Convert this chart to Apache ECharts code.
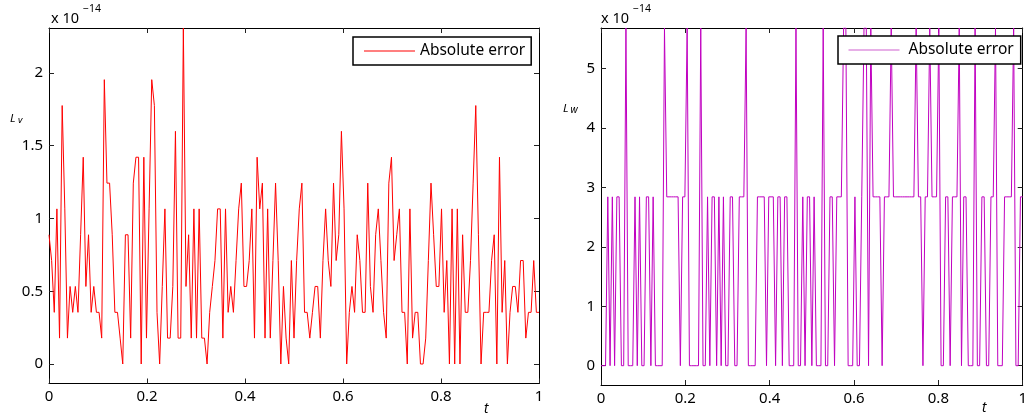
<!DOCTYPE html>
<html><head><meta charset="utf-8">
<script src="https://cdn.jsdelivr.net/npm/echarts@6/dist/echarts.min.js"></script>
<style>html,body{margin:0;padding:0;background:#fff}#c{width:1030px;height:418px}</style>
</head><body><div id="c"></div>
<script>
// sample count: 187 points on t in [0,1]
const N_INTERVALS = 186;
const xTickLabels = [0, 0.2, 0.4, 0.6, 0.8, 1];
const yTicksV = [0, 0.5, 1, 1.5, 2];
const yTicksW = [0, 1, 2, 3, 4, 5];
const legendText = 'Absolute error';

// absolute error L_v (units of 1e-14)
const errV = [
0.888,0.711,0.355,1.066,0.178,1.776,1.066,0.178,0.533,0.355,0.533,0.355,0.888,1.421,0.533,0.888,0.355,0.533,0.355,0.355,0.178,1.954,1.243,1.243,0.888,0.355,0.355,0.178,0,0.888,0.888,0.178,1.243,1.421,1.421,0,1.421,0.178,1.066,1.954,1.776,0.355,0,0.533,1.066,0.178,0.178,
0.533,1.599,0.178,0.178,2.309,0.533,0.888,0.178,1.066,0.178,1.066,0.178,0.178,0,0.355,0.533,0.711,1.066,1.066,0.178,1.066,0.355,0.533,0.355,0.711,1.066,1.243,0.533,0.533,0.711,1.066,0.178,1.421,1.066,1.243,0.178,1.066,0.178,0.711,1.243,0.711,0,0.533,0.178,0,0.711,0.178,
0.711,1.066,1.243,0.355,0.355,0.178,0.355,0.533,0.533,0.178,0.711,1.066,0.711,0.533,1.243,0.711,0.888,1.599,1.066,0,0.355,0.533,0.355,0.888,0.711,0.355,0.355,1.243,0.533,0.355,0.888,1.066,0.711,0.355,0.178,1.243,1.421,0.711,0.888,1.066,0.355,0.355,0,1.066,0.178,0.355,0.355,
0,0,0.178,0.711,1.243,0.888,0.533,0.533,1.066,0.355,0.711,0,1.066,0,1.066,0,0.888,0.355,0.355,0.711,1.243,1.776,0.888,0,0.355,0.355,0.355,0.711,0.888,0,1.421,0.355,0.711,0,0.355,0.533,0.533,0.355,0.711,0.711,0.178,0.355,0.355,0.711,0.355,0.355
];

// absolute error L_w (units of 1e-14)
const errW = [
0,0,0,2.842,0,2.842,0,2.842,2.842,0,0,5.684,0,0,0,2.842,0,2.842,0,0,2.842,2.842,0,2.842,0,0,0,0,5.684,2.842,2.842,2.842,2.842,2.842,2.842,0,2.842,2.842,5.684,0,0,0,0,0,5.684,0,0,
2.842,0,2.842,2.842,0,2.842,0,2.842,0,0,2.842,2.842,0,0,2.842,2.842,2.842,5.684,0,0,0,0,2.842,2.842,2.842,2.842,0,2.842,2.842,2.842,0,2.842,2.842,0,2.842,2.842,0,0,0,5.684,0,0,2.842,0,2.842,2.842,0,
2.842,0,0,0,5.684,0,0,2.842,2.842,0,2.842,2.842,2.842,5.684,5.684,0,0,0,2.842,0,0,2.842,5.684,5.684,0,5.684,2.842,2.842,2.842,2.842,0,2.842,2.842,2.842,5.684,2.842,2.842,2.842,2.842,2.842,2.842,2.842,2.842,2.842,2.842,5.684,
2.842,2.842,0,2.842,2.842,5.684,2.842,2.842,2.842,5.684,0,0,2.842,2.842,0,2.842,2.842,2.842,5.684,0,2.842,2.842,0,0,0,5.684,0,0,2.842,2.842,0,0,2.842,2.842,5.684,0,0,0,2.842,2.842,2.842,2.842,5.684,0,0,2.842,2.842
];

const FONT = '"Noto Sans", "Open Sans", sans-serif';
const chart = echarts.init(document.getElementById('c'), null, {renderer: 'canvas'});

function xAx(grid, top) {
  return {
    type: 'value', gridIndex: grid, min: 0, max: 1, interval: 0.2,
    position: top ? 'top' : 'bottom',
    axisLine: {show: true, onZero: false, lineStyle: {color: '#000', width: 1}},
    axisTick: {show: true, inside: true, length: 5, lineStyle: {color: '#222'}},
    axisLabel: {show: !top, margin: 6, color: '#000', fontSize: 15, fontFamily: FONT,
      formatter: v => String(Math.round(v * 10) / 10)},
    splitLine: {show: false}
  };
}
function yAx(grid, right, min, max, ticks) {
  return {
    type: 'value', gridIndex: grid, min: min, max: max,
    position: right ? 'right' : 'left',
    axisLine: {show: true, onZero: false, lineStyle: {color: '#000', width: 1}},
    axisTick: {show: true, inside: true, length: 5, customValues: ticks, lineStyle: {color: '#222'}},
    axisLabel: {show: !right, margin: 6, customValues: ticks, color: '#000', fontSize: 15, fontFamily: FONT},
    splitLine: {show: false}
  };
}

function txt(x, y, s, size, italic) {
  return {type: 'text', x: x, y: y, silent: true,
    style: {text: s, fill: '#000', font: (italic ? 'italic ' : '') + size + 'px ' + FONT,
      align: 'left', verticalAlign: 'middle'}};
}

const legendCommon = {
  orient: 'horizontal', itemWidth: 51, itemHeight: 1, itemGap: 0, icon: 'rect',
  borderColor: '#000', borderWidth: 1.5, backgroundColor: '#fff', borderRadius: 0,
  selectedMode: false, formatter: () => legendText,
  textStyle: {fontFamily: FONT, fontSize: 15.5, color: '#000', lineHeight: 16}
};

chart.setOption({
  animation: false,
  backgroundColor: '#fff',
  grid: [
    {left: 49, top: 28, width: 490, height: 355.5},
    {left: 601, top: 28, width: 426, height: 357}
  ],
  xAxis: [xAx(0, false), xAx(0, true), xAx(1, false), xAx(1, true)],
  yAxis: [
    yAx(0, false, -0.134, 2.309, yTicksV), yAx(0, true, -0.134, 2.309, yTicksV),
    yAx(1, false, -0.325, 5.684, yTicksW), yAx(1, true, -0.325, 5.684, yTicksW)
  ],
  legend: [
    Object.assign({}, legendCommon, {data: ['Lv'], left: 353, top: 37, padding: [6, 6, 6, 11]}),
    Object.assign({}, legendCommon, {data: ['Lw'], left: 838, top: 36, padding: [6, 7, 6, 10.5],
      textStyle: Object.assign({}, legendCommon.textStyle, {padding: [0, 0, 0, 4]})})
  ],
  series: [
    {name: 'Lv', type: 'line', xAxisIndex: 0, yAxisIndex: 0, symbol: 'none',
     lineStyle: {color: '#ff0000', width: 1}, itemStyle: {color: '#ff0000'},
     data: errV.map((v, i) => [i / N_INTERVALS, v])},
    {name: 'Lw', type: 'line', xAxisIndex: 2, yAxisIndex: 2, symbol: 'none',
     lineStyle: {color: '#c000c0', width: 1}, itemStyle: {color: '#d060d0'},
     data: errW.map((v, i) => [i / N_INTERVALS, v])}
  ],
  graphic: [
    txt(51, 19, 'x 10', 14.5, false), txt(83, 9, '\u221214', 10.5, false),
    txt(601, 19, 'x 10', 14.5, false), txt(633, 9, '\u221214', 10.5, false),
    txt(10, 119, 'L', 11.5, true), txt(18, 120.5, 'v', 9.5, true),
    txt(563, 108.5, 'L', 11.5, true), txt(570.5, 110, 'w', 10, true),
    txt(484, 409.5, 't', 13.5, true), txt(982, 408.5, 't', 13.5, true)
  ]
});
</script></body></html>
